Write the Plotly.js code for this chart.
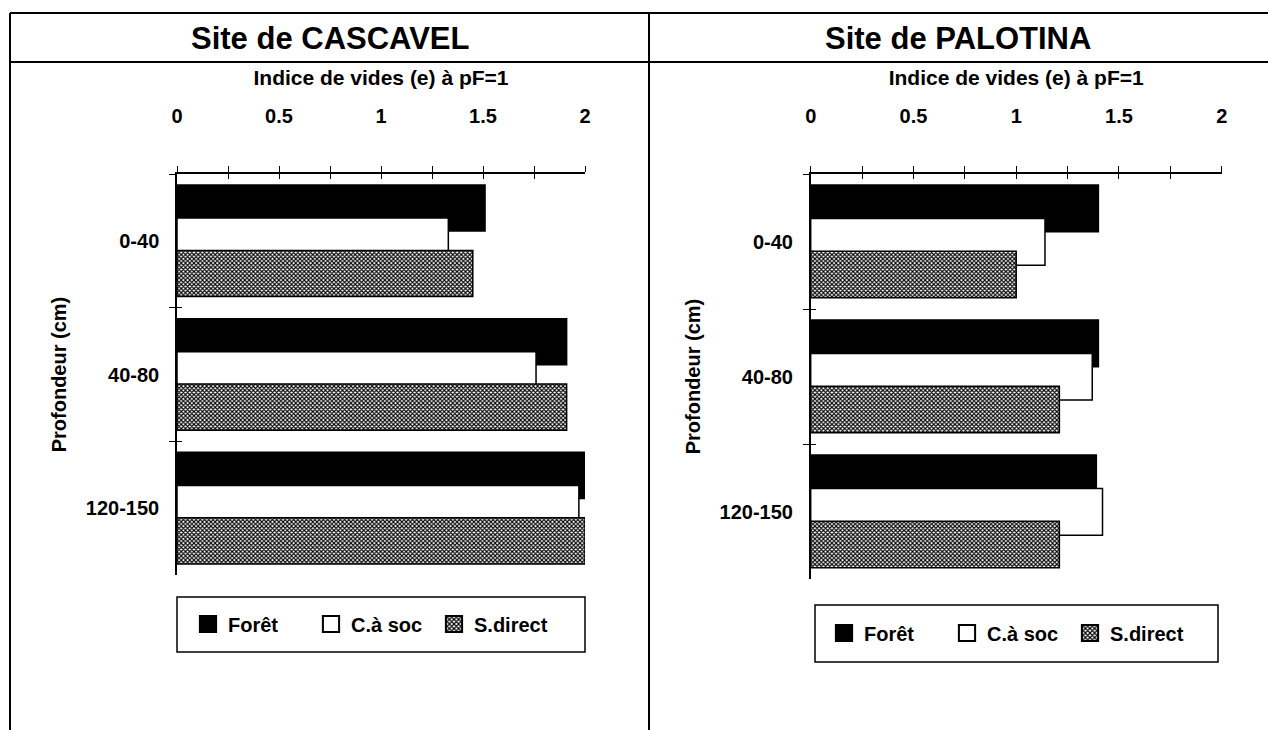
<!DOCTYPE html>
<html>
<head>
<meta charset="utf-8">
<script src="https://cdn.plot.ly/plotly-3.0.1.min.js"></script>
<style>
html,body{margin:0;padding:0;background:#fff;overflow:hidden;}
#chart{width:1268px;height:730px;}
</style>
</head>
<body>
<div id="chart"></div>
<script>
// ---- data ----
const categories = ['0-40', '40-80', '120-150'];
const seriesNames = ['Forêt', 'C.à soc', 'S.direct'];
const cascavelForet = [1.51, 1.91, 2.00];
const cascavelSoc = [1.33, 1.76, 1.97];
const cascavelDirect = [1.45, 1.91, 2.00];
const palotinaForet = [1.40, 1.40, 1.39];
const palotinaSoc = [1.14, 1.37, 1.42];
const palotinaDirect = [1.00, 1.21, 1.21];
const xTickVals = [0, 0.5, 1, 1.5, 2];
const xTickText = ['0', '0.5', '1', '1.5', '2'];
const siteTitles = ['Site de CASCAVEL', 'Site de PALOTINA'];
const xTitle = 'Indice de vides (e) à pF=1';
const yTitle = 'Profondeur (cm)';

const W = 1268, H = 730;
const px = v => v / W;
const py = v => 1 - v / H;

const FONT = 'Liberation Sans, Arial, Helvetica, sans-serif';
const font = (s) => ({family: FONT, size: s, color: '#000', weight: 'bold'});

const barWidth = 0.345;
const offsets = [-0.418, -0.17, 0.072];
const styles = [
  {color: '#000', line: {color: '#000', width: 1.5}},
  {color: '#fff', line: {color: '#000', width: 1.5}},
  {color: '#fff', line: {color: '#000', width: 1.5},
   pattern: {shape: 'x', fgcolor: '#000', bgcolor: '#fff', size: 3, solidity: 0.6, fillmode: 'replace'}}
];

function makeTraces(values, xa, ya, legend) {
  return values.map((vals, i) => ({
    type: 'bar', orientation: 'h',
    x: vals, y: categories,
    name: seriesNames[i],
    xaxis: xa, yaxis: ya, legend: legend,
    width: barWidth, offset: offsets[i],
    marker: styles[i],
    hoverinfo: 'x+y+name'
  }));
}

// empty helper traces so the overlay axes (inner half of the crossing ticks) are drawn
const helper = (xa, ya) => ({type: 'scatter', mode: 'markers', x: [], y: [], xaxis: xa, yaxis: ya, showlegend: false, hoverinfo: 'skip'});

const data = [
  ...makeTraces([cascavelForet, cascavelSoc, cascavelDirect], 'x', 'y', 'legend'),
  ...makeTraces([palotinaForet, palotinaSoc, palotinaDirect], 'x2', 'y2', 'legend2'),
  helper('x3', 'y3'), helper('x4', 'y4')
];

const tickStyle = {tickwidth: 1.2, tickcolor: '#000'};

function xAxis(domain, anchor) {
  return Object.assign({
    domain: domain, anchor: anchor, side: 'top', range: [0, 2],
    tickmode: 'array', tickvals: xTickVals, ticktext: xTickText,
    ticks: 'outside', ticklen: 6,
    minor: {dtick: 0.25, tick0: 0, ticks: 'outside', ticklen: 6, tickwidth: 1.2, tickcolor: '#000', showgrid: false},
    showline: true, linecolor: '#000', linewidth: 1.5,
    showgrid: false, zeroline: false,
    tickfont: font(20), ticklabelstandoff: 35,
    title: {text: xTitle, font: font(21), standoff: 14},
    fixedrange: true
  }, tickStyle);
}
function xAxisInner(over, anchor) {
  return Object.assign({
    overlaying: over, anchor: anchor, side: 'top', range: [0, 2],
    tickmode: 'linear', tick0: 0, dtick: 0.25, ticks: 'inside', ticklen: 5,
    showticklabels: false, showline: false, showgrid: false, zeroline: false,
    fixedrange: true
  }, tickStyle);
}
function yAxis(domain, anchor) {
  return Object.assign({
    domain: domain, anchor: anchor, type: 'category', autorange: 'reversed',
    tickson: 'boundaries', ticks: 'outside', ticklen: 6,
    showline: true, linecolor: '#000', linewidth: 1.5,
    showgrid: false, zeroline: false,
    tickfont: font(20), ticklabelstandoff: 12,
    title: {text: yTitle, font: font(20), standoff: 14},
    fixedrange: true
  }, tickStyle);
}
function yAxisInner(over, anchor) {
  return Object.assign({
    overlaying: over, anchor: anchor, side: 'left', type: 'linear',
    range: [categories.length - 0.5, -0.5],
    tickmode: 'linear', tick0: -0.5, dtick: 1, ticks: 'inside', ticklen: 5,
    showticklabels: false, showline: false, showgrid: false, zeroline: false,
    fixedrange: true
  }, tickStyle);
}

const frame = {color: '#000', width: 2};
const box = {color: '#000', width: 1.5};
const shapes = [
  {type: 'line', xref: 'paper', yref: 'paper', x0: px(10), x1: 1, y0: py(13), y1: py(13), line: frame},
  {type: 'line', xref: 'paper', yref: 'paper', x0: px(10), x1: 1, y0: py(62), y1: py(62), line: frame},
  {type: 'line', xref: 'paper', yref: 'paper', x0: px(10), x1: px(10), y0: py(13), y1: 0, line: frame},
  {type: 'line', xref: 'paper', yref: 'paper', x0: px(649), x1: px(649), y0: py(13), y1: 0, line: frame},
  {type: 'rect', xref: 'paper', yref: 'paper', x0: px(177), x1: px(585), y0: py(597), y1: py(652), line: box},
  {type: 'rect', xref: 'paper', yref: 'paper', x0: px(815), x1: px(1218), y0: py(605), y1: py(662), line: box}
];

const annotations = [
  {text: siteTitles[0], xref: 'paper', yref: 'paper', x: px(330), y: py(39), xanchor: 'center', yanchor: 'middle', showarrow: false, font: font(31)},
  {text: siteTitles[1], xref: 'paper', yref: 'paper', x: px(958), y: py(39), xanchor: 'center', yanchor: 'middle', showarrow: false, font: font(31)}
];

const legendBase = {
  orientation: 'h', xanchor: 'left', yanchor: 'middle',
  borderwidth: 0, bgcolor: 'rgba(0,0,0,0)',
  font: font(20), entrywidth: 78, itemwidth: 30, traceorder: 'normal'
};

const layout = {
  width: W, height: H,
  margin: {l: 0, r: 0, t: 0, b: 0, autoexpand: false},
  paper_bgcolor: '#fff', plot_bgcolor: 'rgba(0,0,0,0)',
  barmode: 'overlay',
  showlegend: true,
  xaxis: xAxis([px(177), px(585)], 'y'),
  yaxis: yAxis([py(575), py(174)], 'x'),
  xaxis2: xAxis([px(810.7), px(1221.7)], 'y2'),
  yaxis2: yAxis([py(579), py(174)], 'x2'),
  xaxis3: xAxisInner('x', 'y3'),
  yaxis3: yAxisInner('y', 'x3'),
  xaxis4: xAxisInner('x2', 'y4'),
  yaxis4: yAxisInner('y2', 'x4'),
  legend: Object.assign({}, legendBase, {x: px(188), y: py(624)}),
  legend2: Object.assign({}, legendBase, {x: px(824), y: py(633)}),
  shapes: shapes,
  annotations: annotations
};

Plotly.newPlot('chart', data, layout, {displayModeBar: false}).then(gd => {
  // enlarge the legend swatches to match the reference's bigger squares
  gd.querySelectorAll('.legendpoints path').forEach(p => {
    const t = p.getAttribute('transform') || '';
    p.setAttribute('transform', t + ' scale(1.35)');
  });
});
</script>
</body>
</html>
